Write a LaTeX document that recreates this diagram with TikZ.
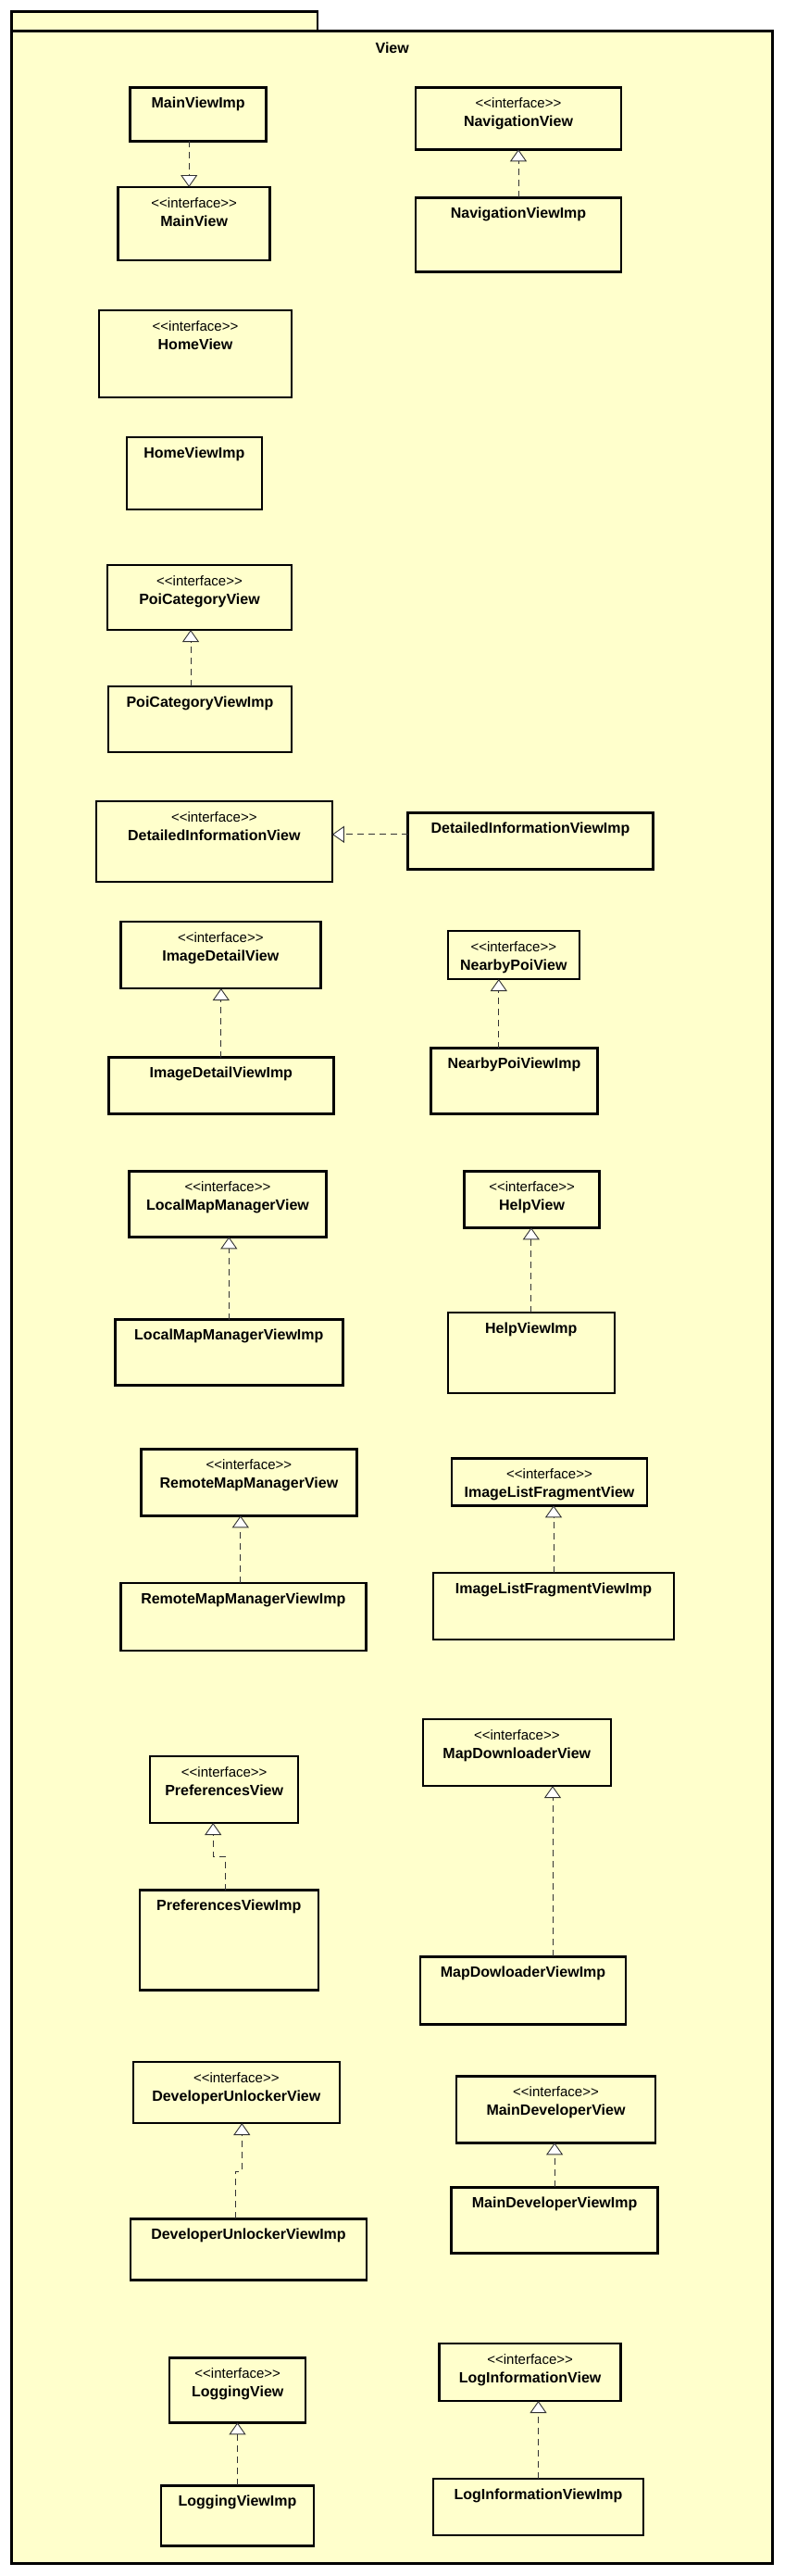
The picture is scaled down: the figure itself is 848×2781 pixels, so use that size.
\documentclass[tikz,border=0pt]{standalone}
\usepackage{fontspec}
\setmainfont{Liberation Sans}
\usetikzlibrary{arrows.meta}
\definecolor{viewfill}{RGB}{255,255,204}

\begin{document}
\begin{tikzpicture}[x=1pt, y=-1pt,
    cls/.style={draw, line width=2.5pt, fill=viewfill, anchor=north west, inner sep=0pt, outer sep=0pt},
    clsname/.style={font=\bfseries\fontsize{16}{18}\selectfont, anchor=base, yshift=-22pt},
    stereo/.style={font=\fontsize{15}{18}\selectfont, anchor=base, yshift=-22pt},
    imp/.style={cls, label={[clsname]north:#1}},
    iface/.style={cls, label={[stereo]north:{<\kern0pt<interface>\kern0pt>}}, label={[clsname, yshift=-20.5pt]north:#1}},
    impl/.style={draw=black!80, line width=0.9pt, dash pattern=on 7pt off 5pt, -{Triangle[length=13pt, width=18pt, fill=white]}}]
        \useasboundingbox (0,0) rectangle (848,2781);
        \fill[white] (0,0) rectangle (848,2781);

        % Draw the package
        \draw[line width=2.5pt, fill=viewfill] (12.7,12.7) rectangle (343,33.3);
        \draw[line width=2.5pt, fill=viewfill] (12.7,33.3) rectangle (834.7,2767.6);
        \node[font=\bfseries\fontsize{16}{18}\selectfont, anchor=base] (pkg) at (423.7,57) {View};

        % Draw the classes
        \node[imp=MainViewImp, minimum width=147pt, minimum height=58pt] (mvi) at (140.7,94.3) {};
        \node[iface=MainView, minimum width=164pt, minimum height=79pt] (mv) at (127.7,202) {};
        \node[iface=NavigationView, minimum width=222pt, minimum height=67pt] (nv) at (449,94.3) {};
        \node[imp=NavigationViewImp, minimum width=222pt, minimum height=80pt] (nvi) at (449,213.3) {};
        \node[iface=HomeView, minimum width=208pt, minimum height=94pt] (hv) at (107,335) {};
        \node[imp=HomeViewImp, minimum width=146pt, minimum height=78pt] (hvi) at (136.8,472) {};
        \node[iface=PoiCategoryView, minimum width=199pt, minimum height=70pt] (pcv) at (116,610) {};
        \node[imp=PoiCategoryViewImp, minimum width=198pt, minimum height=71pt] (pcvi) at (117,741) {};
        \node[iface=DetailedInformationView, minimum width=255pt, minimum height=87pt] (div) at (103.8,865) {};
        \node[imp=DetailedInformationViewImp, minimum width=265pt, minimum height=61pt] (divi) at (440.5,877.3) {};
        \node[iface=ImageDetailView, minimum width=216pt, minimum height=72pt] (idv) at (130.3,995) {};
        \node[imp=ImageDetailViewImp, minimum width=243pt, minimum height=61pt] (idvi) at (117.3,1141.7) {};
        \node[iface=NearbyPoiView, minimum width=142pt, minimum height=52pt] (npv) at (483.8,1005) {};
        \node[imp=NearbyPoiViewImp, minimum width=180pt, minimum height=71pt] (npvi) at (465.4,1131.7) {};
        \node[iface=LocalMapManagerView, minimum width=213pt, minimum height=71pt] (lmv) at (139.5,1264.3) {};
        \node[imp=LocalMapManagerViewImp, minimum width=246pt, minimum height=71pt] (lmvi) at (124.3,1424.6) {};
        \node[iface=HelpView, minimum width=146pt, minimum height=61pt] (hpv) at (501.6,1264.3) {};
        \node[imp=HelpViewImp, minimum width=180pt, minimum height=87pt] (hpvi) at (483.8,1417) {};
        \node[iface=RemoteMapManagerView, minimum width=233pt, minimum height=72pt] (rmv) at (152.4,1564.3) {};
        \node[imp=RemoteMapManagerViewImp, minimum width=265pt, minimum height=73pt] (rmvi) at (130.3,1709) {};
        \node[iface=ImageListFragmentView, minimum width=211pt, minimum height=51pt] (ilv) at (488,1574.3) {};
        \node[imp=ImageListFragmentViewImp, minimum width=260pt, minimum height=72pt] (ilvi) at (468,1698.2) {};
        \node[iface=MapDownloaderView, minimum width=203pt, minimum height=72pt] (mdv) at (456.8,1856) {};
        \node[imp=MapDowloaderViewImp, minimum width=222pt, minimum height=73pt] (mdvi) at (454,2112.3) {};
        \node[iface=PreferencesView, minimum width=160pt, minimum height=72pt] (pv) at (162.2,1896) {};
        \node[imp=PreferencesViewImp, minimum width=193pt, minimum height=108pt] (pvi) at (150.8,2040.7) {};
        \node[iface=DeveloperUnlockerView, minimum width=223pt, minimum height=66pt] (duv) at (143.8,2226) {};
        \node[imp=DeveloperUnlockerViewImp, minimum width=255pt, minimum height=66pt] (duvi) at (141,2395.4) {};
        \node[iface=MainDeveloperView, minimum width=215pt, minimum height=72pt] (mdev) at (493,2241.3) {};
        \node[imp=MainDeveloperViewImp, minimum width=223pt, minimum height=71pt] (mdevi) at (487.6,2361.3) {};
        \node[iface=LoggingView, minimum width=147pt, minimum height=70pt] (lgv) at (183.2,2545.3) {};
        \node[imp=LoggingViewImp, minimum width=165pt, minimum height=65pt] (lgvi) at (174,2683.3) {};
        \node[iface=LogInformationView, minimum width=196pt, minimum height=62pt] (liv) at (474.6,2530) {};
        \node[imp=LogInformationViewImp, minimum width=227pt, minimum height=61pt] (livi) at (468,2676) {};

        % Draw the realizations
        \coordinate (mvi-out) at ([xshift=-10pt]mvi.south);
        \draw[impl] (mvi-out) -- (mvi-out |- mv.north);
        \draw[impl] (nvi.north) -- (nvi.north |- nv.south);
        \coordinate (pcvi-out) at ([xshift=-10pt]pcvi.north);
        \draw[impl] (pcvi-out) -- (pcvi-out |- pcv.south);
        \coordinate (divi-out) at ([yshift=7pt]divi.west);
        \draw[impl] (divi-out) -- (divi-out -| div.east);
        \draw[impl] (idvi.north) -- (idvi.north |- idv.south);
        \coordinate (npvi-out) at ([xshift=-16.6pt]npvi.north);
        \draw[impl] (npvi-out) -- (npvi-out |- npv.south);
        \draw[impl] (lmvi.north) -- (lmvi.north |- lmv.south);
        \draw[impl] (hpvi.north) -- (hpvi.north |- hpv.south);
        \coordinate (rmvi-out) at ([xshift=-3pt]rmvi.north);
        \draw[impl] (rmvi-out) -- (rmvi-out |- rmv.south);
        \draw[impl] (ilvi.north) -- (ilvi.north |- ilv.south);
        \coordinate (mdvi-out) at ([xshift=32pt]mdvi.north);
        \draw[impl] (mdvi-out) -- (mdvi-out |- mdv.south);
        \coordinate (pvi-out) at ([xshift=-4pt]pvi.north);
        \coordinate (pv-in) at ([xshift=-12pt]pv.south);
        \draw[impl] (pvi-out) -- ++(0,-36.7) -| (pv-in);
        \coordinate (duvi-out) at ([xshift=-14pt]duvi.north);
        \coordinate (duv-in) at ([xshift=6pt]duv.south);
        \draw[impl] (duvi-out) -- ++(0,-51.4) -| (duv-in);
        \draw[impl] (mdevi.north) -- (mdevi.north |- mdev.south);
        \draw[impl] (lgvi.north) -- (lgvi.north |- lgv.south);
        \draw[impl] (livi.north) -- (livi.north |- liv.south);
    \end{tikzpicture}
\end{document}
